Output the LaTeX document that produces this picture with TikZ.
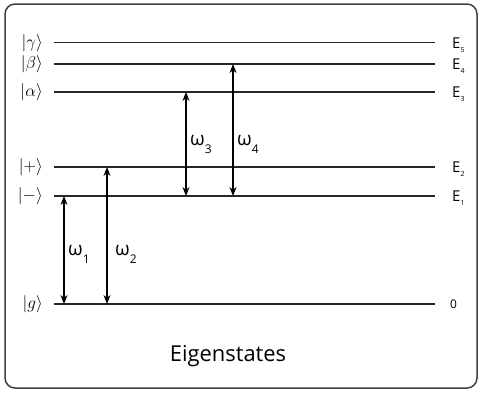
\documentclass[tikz,border=0pt]{standalone}
\usepackage{fontspec}
\setmainfont{Open Sans}
\usetikzlibrary{arrows.meta}
\begin{document}
\begin{tikzpicture}[x=1bp,y=-1bp,
  level/.style={line width=1.2bp, draw=black!85},
  trans/.style={line width=1.1bp, draw=black, {Stealth[length=9bp,width=7bp]}-{Stealth[length=9bp,width=7bp]}},
  ket/.style={anchor=east, inner sep=0pt, font=\fontsize{18}{20}\selectfont},
  elab/.style={anchor=west, inner sep=0pt, font=\fontsize{15}{17}\selectfont},
  wlab/.style={anchor=base west, inner sep=0pt, font=\fontsize{19}{21}\selectfont}]
\useasboundingbox (0,0) rectangle (480,392);
\draw[line width=1.5bp, draw=black!75, rounded corners=10bp] (5,4) rectangle (477,388);
% level end points
\foreach \n/\y in {g/304, m/196, p/167, a/92, b/64, c/42.7}{
  \coordinate (\n L) at (54,\y);
  \coordinate (\n R) at (435,\y);
}
\draw[level] (cL) -- (cR);
\draw[level] (bL) -- (bR);
\draw[level] (aL) -- (aR);
\draw[level] (pL) -- (pR);
\draw[level] (mL) -- (mR);
\draw[level] (gL) -- (gR);
% kets
\node[ket] (kc) at (43,42.7) {$|\gamma\rangle$};
\node[ket] (kb) at (43,64) {$|\beta\rangle$};
\node[ket] (ka) at (43,92) {$|\alpha\rangle$};
\node[ket] (kp) at (43,167) {$|{+}\rangle$};
\node[ket] (km) at (43,196) {$|{-}\rangle$};
\node[ket] (kg) at (43,304) {$|g\rangle$};
% energies
\node[elab, anchor=base west] (e5) at (452,48.5) {E\raisebox{-4bp}{\fontsize{7}{8}\selectfont 5}};
\node[elab, anchor=base west] (e4) at (452,69.5) {E\raisebox{-4bp}{\fontsize{7}{8}\selectfont 4}};
\node[elab, anchor=base west] (e3) at (452,97.5) {E\raisebox{-4bp}{\fontsize{7}{8}\selectfont 3}};
\node[elab, anchor=base west] (e2) at (452,172.5) {E\raisebox{-4bp}{\fontsize{7}{8}\selectfont 2}};
\node[elab, anchor=base west] (e1) at (452,201.5) {E\raisebox{-4bp}{\fontsize{7}{8}\selectfont 1}};
\node[elab, font=\fontsize{12}{14}\selectfont] (e0) at (450,304.5) {0};
% transitions
\coordinate (t1a) at (64,196); \coordinate (t1b) at (64,304);
\coordinate (t2a) at (107,167); \coordinate (t2b) at (107,304);
\coordinate (t3a) at (186,92); \coordinate (t3b) at (186,196);
\coordinate (t4a) at (233,64); \coordinate (t4b) at (233,196);
\draw[trans] (t1a) -- (t1b);
\draw[trans] (t2a) -- (t2b);
\draw[trans] (t3a) -- (t3b);
\draw[trans] (t4a) -- (t4b);
\node[wlab] (w1) at (68,255) {ω\raisebox{-8bp}{\fontsize{12}{13}\selectfont 1}};
\node[wlab] (w2) at (115,255) {ω\raisebox{-8bp}{\fontsize{12}{13}\selectfont 2}};
\node[wlab] (w3) at (190,145) {ω\raisebox{-8bp}{\fontsize{12}{13}\selectfont 3}};
\node[wlab] (w4) at (237,145) {ω\raisebox{-8bp}{\fontsize{12}{13}\selectfont 4}};
% title
\node[inner sep=0pt, font=\fontsize{22}{25}\selectfont] (title) at (228,356) {Eigenstates};
\end{tikzpicture}
\end{document}
